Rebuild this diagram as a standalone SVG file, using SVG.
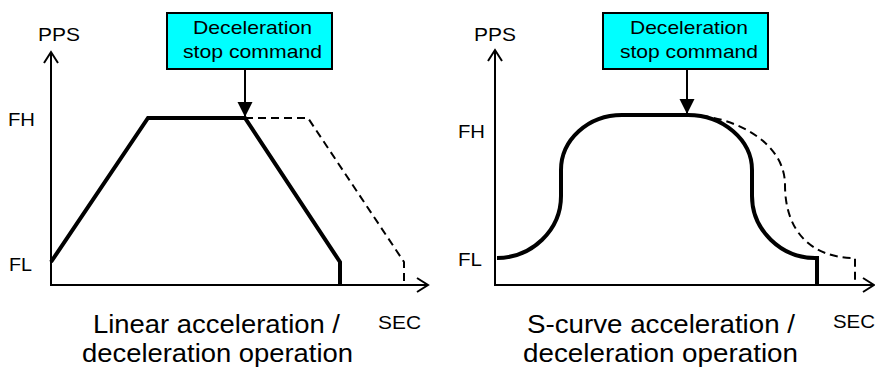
<svg xmlns="http://www.w3.org/2000/svg" width="875" height="372" viewBox="0 0 875 372">
  <defs>
    <style>
      text { font-family: "Liberation Sans", Arial, sans-serif; fill: #000; }
      .lbl { font-size: 19px; }
      .cmd { font-size: 19px; }
      .ttl { font-size: 25px; }
      .axis { fill: none; stroke: #000; stroke-width: 2; }
      .prof { fill: none; stroke: #000; stroke-width: 4; stroke-linejoin: miter; }
      .dash { fill: none; stroke: #000; stroke-width: 2; stroke-dasharray: 8 5; }
      .box { fill: #00FFFF; stroke: #000; stroke-width: 2; }
      .conn { fill: none; stroke: #000; stroke-width: 2; }
    </style>
    <marker id="open" markerUnits="userSpaceOnUse" markerWidth="16" markerHeight="18" viewBox="-13 -9 16 18" refX="0" refY="0" orient="auto">
      <path d="M-11,-7 L0,0 L-11,7" fill="none" stroke="#000" stroke-width="2"/>
    </marker>
    <marker id="tri" markerUnits="userSpaceOnUse" markerWidth="18" markerHeight="18" viewBox="-16 -9 18 18" refX="0" refY="0" orient="auto">
      <path d="M-15,-7.5 L0,0 L-15,7.5 Z" fill="#000"/>
    </marker>
  </defs>

  <g id="left-chart">
    <path class="axis" d="M51,285 L51,52" marker-end="url(#open)"/>
    <path class="axis" d="M50,285 L428,285" marker-end="url(#open)"/>
    <text class="lbl" x="38" y="41" textLength="42" lengthAdjust="spacingAndGlyphs">PPS</text>
    <text class="lbl" x="8" y="126" textLength="27" lengthAdjust="spacingAndGlyphs">FH</text>
    <text class="lbl" x="9" y="271" textLength="23" lengthAdjust="spacingAndGlyphs">FL</text>
    <text class="lbl" x="378" y="329" textLength="43" lengthAdjust="spacingAndGlyphs">SEC</text>
    <path class="dash" d="M245,118 L308,118 L404,262 L404,285"/>
    <path class="prof" d="M51,262 L148,118 L245,118 L340,262 L340,285"/>
    <text class="ttl" x="93" y="333" textLength="247" lengthAdjust="spacingAndGlyphs">Linear acceleration /</text>
    <text class="ttl" x="82" y="362" textLength="271" lengthAdjust="spacingAndGlyphs">deceleration operation</text>
  </g>

  <g id="right-chart">
    <path class="axis" d="M495,285 L495,50" marker-end="url(#open)"/>
    <path class="axis" d="M494,285 L874,285" marker-end="url(#open)"/>
    <text class="lbl" x="474" y="41" textLength="42" lengthAdjust="spacingAndGlyphs">PPS</text>
    <text class="lbl" x="458" y="138" textLength="27" lengthAdjust="spacingAndGlyphs">FH</text>
    <text class="lbl" x="458" y="266" textLength="24" lengthAdjust="spacingAndGlyphs">FL</text>
    <text class="lbl" x="833" y="328" textLength="42" lengthAdjust="spacingAndGlyphs">SEC</text>
    <path class="dash" d="M688,115 C730,115 785,140 785,185 C785,230 810,258 855,258 L855,285"/>
    <path class="prof" d="M497,258 C532,258 561,230 561,196 L561,170 C561,140 588,115 622,115 L688,115 C723,115 752,140 752,170 L752,196 C752,230 781,258 815,258 L817,258 L817,285"/>
    <text class="ttl" x="527" y="333" textLength="268" lengthAdjust="spacingAndGlyphs">S-curve acceleration /</text>
    <text class="ttl" x="523" y="362" textLength="275" lengthAdjust="spacingAndGlyphs">deceleration operation</text>
  </g>

  <g id="cmd-left">
    <rect class="box" x="167" y="13" width="165" height="56"/>
    <text class="cmd" x="193" y="34" textLength="119" lengthAdjust="spacingAndGlyphs">Deceleration</text>
    <text class="cmd" x="183" y="58" textLength="139" lengthAdjust="spacingAndGlyphs">stop command</text>
  </g>

  <g id="cmd-right">
    <rect class="box" x="603" y="13" width="165" height="56"/>
    <text class="cmd" x="630" y="34" textLength="118" lengthAdjust="spacingAndGlyphs">Deceleration</text>
    <text class="cmd" x="620" y="58" textLength="138" lengthAdjust="spacingAndGlyphs">stop command</text>
  </g>

  <g id="connectors">
    <path class="conn" d="M245,70 L245,117" marker-end="url(#tri)"/>
    <path class="conn" d="M687,70 L687,114" marker-end="url(#tri)"/>
  </g>
</svg>
